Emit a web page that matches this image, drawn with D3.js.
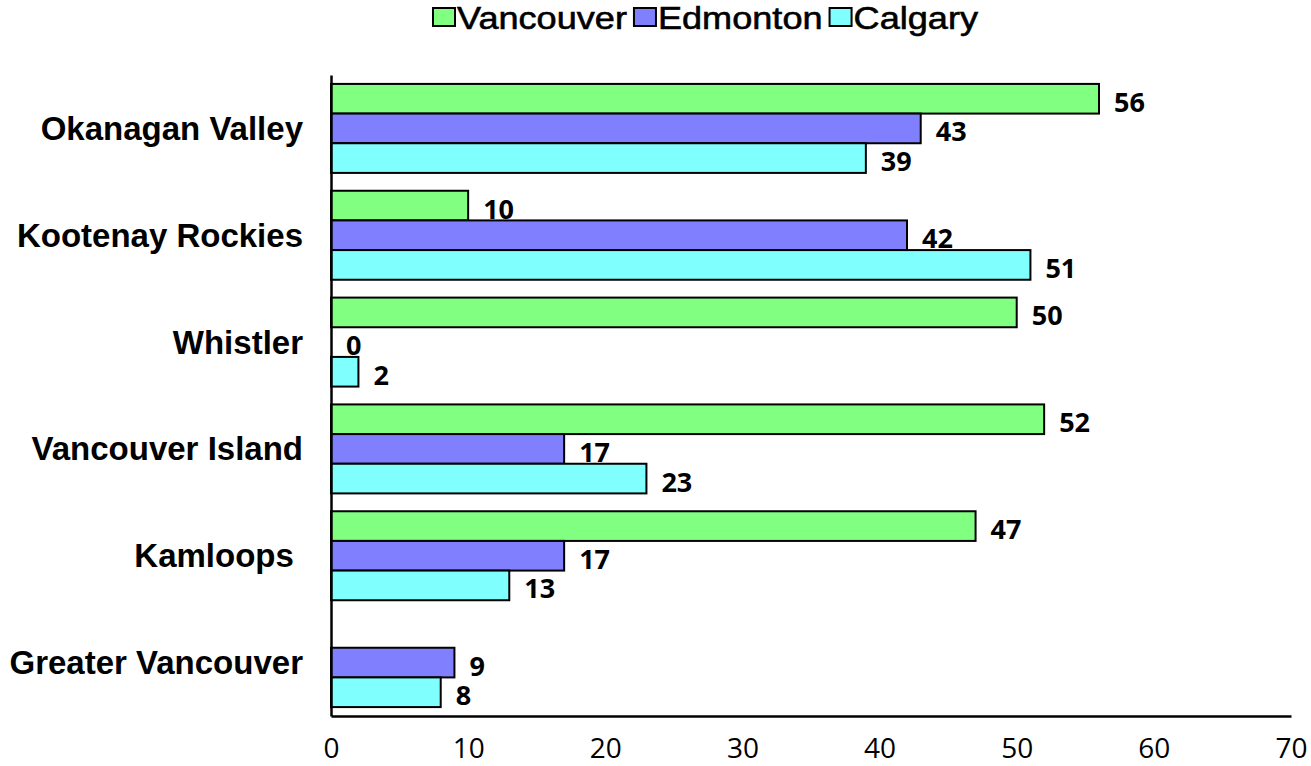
<!DOCTYPE html>
<html>
<head>
<meta charset="utf-8">
<script src="https://cdn.jsdelivr.net/npm/d3@7"></script>
<style>
  html, body { margin: 0; padding: 0; background: #fff; }
  svg { display: block; }
</style>
</head>
<body>
<svg id="chart" width="1311" height="766"></svg>
<script>
const categories = ["Okanagan Valley", "Kootenay Rockies", "Whistler", "Vancouver Island", "Kamloops ", "Greater Vancouver"];
const seriesNames = ["Vancouver", "Edmonton", "Calgary"];
const vancouverValues = [56, 10, 50, 52, 47, null];
const edmontonValues = [43, 42, 0, 17, 17, 9];
const calgaryValues = [39, 51, 2, 23, 13, 8];
const xTicks = [0, 10, 20, 30, 40, 50, 60, 70];
const seriesColors = ["#80ff80", "#8080ff", "#80ffff"];

const seriesValues = [vancouverValues, edmontonValues, calgaryValues];

const svg = d3.select("#chart");
const margin = { left: 331, top: 75 };
const plotRight = 1291, plotBottom = 716;

const x = d3.scaleLinear().domain([0, 70]).range([margin.left, plotRight]);
const y = d3.scaleBand().domain(categories).range([margin.top, plotBottom])
  .paddingInner(0.167).paddingOuter(0.0835);
const ySub = d3.scaleBand().domain(seriesNames).range([0, y.bandwidth()]);

// bars
const rows = [];
categories.forEach((c, i) => {
  seriesNames.forEach((s, j) => {
    const v = seriesValues[j][i];
    if (v !== null && v !== undefined) rows.push({ cat: c, series: s, value: v, color: seriesColors[j] });
  });
});

const g = svg.append("g");
g.selectAll("rect.bar").data(rows).enter().append("rect")
  .attr("class", "bar")
  .attr("x", x(0))
  .attr("y", d => y(d.cat) + ySub(d.series))
  .attr("width", d => x(d.value) - x(0))
  .attr("height", ySub.bandwidth())
  .attr("fill", d => d.color)
  .attr("stroke", "#000")
  .attr("stroke-width", 2);

// value labels
g.selectAll("text.val").data(rows).enter().append("text")
  .attr("class", "val")
  .attr("x", d => x(d.value) + 15)
  .attr("y", d => y(d.cat) + ySub(d.series) + ySub.bandwidth() / 2 + 13)
  .attr("font-family", "'Open Sans', sans-serif")
  .attr("font-weight", "bold")
  .attr("font-size", 27)
  .attr("fill", "#000")
  .text(d => d.value);

// axes
const xAxis = d3.axisBottom(x).tickValues(xTicks).tickSize(0).tickPadding(22);
const xg = svg.append("g").attr("transform", `translate(0,${plotBottom})`).call(xAxis);
xg.select(".domain").attr("stroke", "#000").attr("stroke-width", 2.5);
xg.selectAll("text").attr("font-family", "'Open Sans', sans-serif").attr("font-size", 28).attr("fill", "#000");

const yAxis = d3.axisLeft(y).tickSize(0).tickPadding(28);
const yg = svg.append("g").attr("transform", `translate(${margin.left},0)`).call(yAxis);
yg.select(".domain").attr("stroke", "#000").attr("stroke-width", 2.5);
yg.selectAll("text").attr("font-family", "'Liberation Sans', Arial, sans-serif")
  .attr("font-weight", "bold").attr("font-size", 33).attr("fill", "#000")
  .attr("dy", "0.35em").style("white-space", "pre");

// legend (spans roughly x 432 .. 978)
const legend = svg.append("g").attr("transform", "translate(432,0)");
const items = [];
seriesNames.forEach((s, j) => {
  const item = legend.append("g");
  item.append("rect").attr("x", 1).attr("y", 8).attr("width", 22).attr("height", 18)
    .attr("fill", seriesColors[j]).attr("stroke", "#000").attr("stroke-width", 2);
  const t = item.append("text").attr("y", 29)
    .attr("font-family", "'Liberation Sans', Arial, sans-serif")
    .attr("font-size", 32).attr("fill", "#000")
    .attr("stroke", "#000").attr("stroke-width", 0.6)
    .text(s);
  items.push({ item, t, w: t.node().getComputedTextLength() });
});
const totalText = d3.sum(items, d => d.w);
const fixed = items.length * 25 + (items.length - 1) * 6;
const stretch = (978 - 432 - fixed) / totalText;
let lx = 0;
items.forEach(d => {
  d.item.attr("transform", `translate(${lx},0)`);
  d.t.attr("transform", `translate(25,0) scale(${stretch},1)`);
  lx += 25 + d.w * stretch + 6;
});
</script>
</body>
</html>
